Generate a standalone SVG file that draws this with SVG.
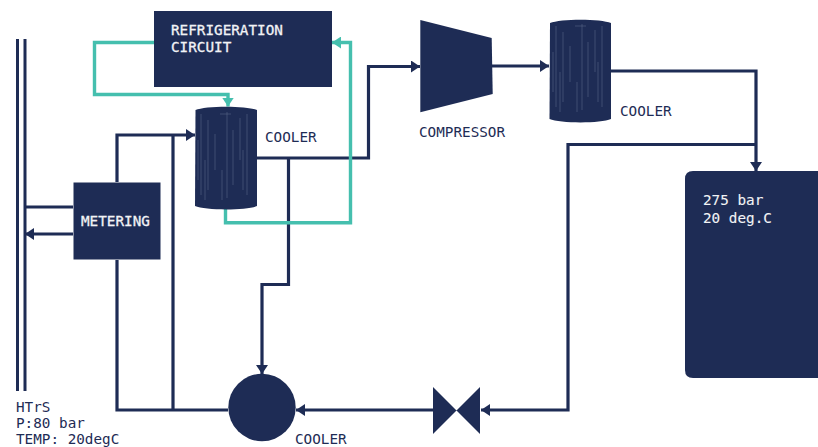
<svg xmlns="http://www.w3.org/2000/svg" width="818" height="447" viewBox="0 0 818 447">
<style>
.n{fill:#1e2c55}
.c{fill:none;stroke:#1e2c55;stroke-width:3.200}
.t{fill:none;stroke:#45bfae;stroke-width:3.400}
.tx{font-family:"DejaVu Sans Mono","Liberation Mono",monospace;font-size:14.300px;fill:#1e2c55}
.w{fill:#f2f3f5;stroke:#f2f3f5;stroke-width:.3}
.l{fill:#f2f3f5;stroke:#f2f3f5;stroke-width:.1}
.s{stroke:#5c6a8c;stroke-width:1;opacity:.55;fill:none}
</style>
<defs>
<marker id="a" markerUnits="userSpaceOnUse" markerWidth="10" markerHeight="12" refX="9" refY="6" orient="auto"><path d="M0 0L9 6L0 12z" fill="#1e2c55"/></marker>
<marker id="b" markerUnits="userSpaceOnUse" markerWidth="10" markerHeight="12" refX="9" refY="6" orient="auto"><path d="M0 0L9 6L0 12z" fill="#45bfae"/></marker>
<g id="streaks"><path class="s" d="M6 14V95M13 20V90M20 34V70M25 14H36M32 12V98M38 30V85M45 18V60M52 14V95M27 70V100M10 60V100M3 40V80M48 50V90"/></g>
</defs>
<g id="connectors">
<path class="c" d="M117 182V135H195" marker-end="url(#a)"/>
<path class="c" d="M173 135V410"/>
<path class="c" d="M73 207H25"/>
<path class="c" d="M73 234H25" marker-end="url(#a)"/>
<path class="c" d="M117 260V410H228"/>
<path class="c" d="M256 158H368.500V66.500H420" marker-end="url(#a)"/>
<path class="c" d="M288.500 158V284.500H262V374" marker-end="url(#a)"/>
<path class="c" d="M492 66H549" marker-end="url(#a)"/>
<path class="c" d="M611 71H756V171" marker-end="url(#a)"/>
<path class="c" d="M756 144.500H568V410H481" marker-end="url(#a)"/>
<path class="c" d="M433 410H296" marker-end="url(#a)"/>
<path class="t" d="M154 42.500H94.500V94.500H228V106.500" marker-end="url(#b)"/>
<path class="t" d="M225.500 209V222.700H350.500V42.500H332" marker-end="url(#b)"/>
</g>
<g id="pipeline"><rect class="n" x="16" y="39" width="3" height="352"/><rect class="n" x="23.500" y="39" width="3" height="352"/>
<text class="tx" x="16" y="412">HTrS</text><text class="tx" x="16" y="428">P:80 bar</text><text class="tx" x="16" y="444">TEMP: 20degC</text></g>
<g id="refrigeration"><rect class="n" x="154" y="11" width="178" height="76"/>
<text class="tx w" x="171" y="35">REFRIGERATION</text><text class="tx w" x="171" y="52">CIRCUIT</text></g>
<g id="metering"><rect class="n" x="73.500" y="182.500" width="87" height="77"/><text class="tx w" x="81" y="226">METERING</text></g>
<g id="cooler1"><path class="n" d="M195.500 110C205 105.500 247 105.500 257 110V206C247 210.500 205 210.500 195 206z"/><use href="#streaks" x="195" y="100"/>
<text class="tx" x="265" y="142">COOLER</text></g>
<g id="compressor"><path class="n" d="M420.300 20L491.700 38L492.700 94L420.300 112.300z"/><text class="tx" x="419" y="137">COMPRESSOR</text></g>
<g id="cooler2"><path class="n" d="M550 23C560 18.500 601 18.500 611 23V119C601 123.500 560 123.500 549.500 119z"/><use href="#streaks" x="550" y="12"/>
<text class="tx" x="620" y="116">COOLER</text></g>
<g id="tank"><path class="n" d="M818 171H693Q685 171 685 179V370Q685 378 693 378H818z"/>
<text class="tx l" x="703" y="205">275 bar</text><text class="tx l" x="703" y="223">20 deg.C</text></g>
<g id="cooler3"><circle class="n" cx="262" cy="407.500" r="33.700"/><text class="tx" x="295" y="444">COOLER</text></g>
<g id="valve"><path class="n" d="M433 387L480 434V387L433 434z"/></g>
</svg>
